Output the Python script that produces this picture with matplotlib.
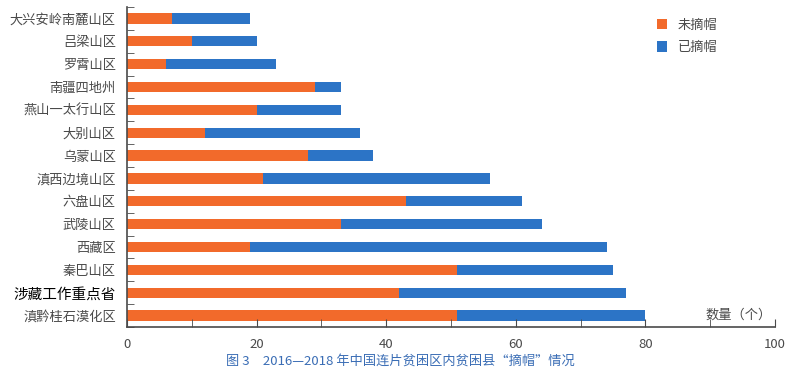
import matplotlib.pyplot as plt
import numpy as np
from matplotlib.ticker import MultipleLocator, FixedLocator

plt.rcParams['font.family'] = ['Noto Sans CJK SC', 'DejaVu Sans']

regions = ["大兴安岭南麓山区", "吕梁山区", "罗霄山区", "南疆四地州", "燕山一太行山区",
           "大别山区", "乌蒙山区", "滇西边境山区", "六盘山区", "武陵山区",
           "西藏区", "秦巴山区", "涉藏工作重点省", "滇黔桂石漠化区"]
not_removed = [7, 10, 6, 29, 20, 12, 28, 21, 43, 33, 19, 51, 42, 51]
total = [19, 20, 23, 33, 33, 36, 38, 56, 61, 64, 74, 75, 77, 80]
removed = [t - n for t, n in zip(total, not_removed)]

orange = "#F26A2B"
blue = "#2C74C6"
grey = "#4a4a4a"

fig = plt.figure(figsize=(8.01, 3.78), dpi=100)
ax = fig.add_axes([127 / 801, 1 - 327 / 378, 648 / 801, 320 / 378])

y = np.arange(len(regions))[::-1]
ax.barh(y, not_removed, height=0.45, color=orange, label="未摘帽")
ax.barh(y, removed, left=not_removed, height=0.45, color=blue, label="已摘帽")

ax.set_xlim(0, 100)
ax.set_ylim(-0.5, len(regions) - 0.5)
ax.set_yticks(y)
ax.set_yticklabels(regions)
for lbl in ax.get_yticklabels():
    if lbl.get_text() == "涉藏工作重点省":
        lbl.set_color("black")
        lbl.set_fontsize(10.5)
    else:
        lbl.set_color(grey)
        lbl.set_fontsize(9.5)
ax.yaxis.set_minor_locator(FixedLocator(np.arange(-0.5, len(regions), 1)))
ax.tick_params(axis="y", which="major", length=0, pad=8)
ax.tick_params(axis="y", which="minor", direction="in", length=5, color=grey)

ax.xaxis.set_major_locator(MultipleLocator(20))
ax.xaxis.set_minor_locator(MultipleLocator(10))
ax.tick_params(axis="x", which="both", direction="in", length=6, color=grey,
               labelcolor=grey, labelsize=9.5, pad=8)

for s in ["top", "right"]:
    ax.spines[s].set_visible(False)
for s in ["left", "bottom"]:
    ax.spines[s].set_color(grey)
    ax.spines[s].set_linewidth(1.2)

ax.text(99.5, 0.018, "数量（个）", ha="right", va="bottom", fontsize=9.5, color=grey,
        transform=ax.get_xaxis_transform())

ax.legend(loc="upper right", bbox_to_anchor=(0.93, 1.0), frameon=False, fontsize=9.5,
          handlelength=0.8, handleheight=0.8, labelcolor=grey, labelspacing=0.7)

fig.text(0.5, 1 - 361 / 378, "图 3　2016—2018 年中国连片贫困区内贫困县“摘帽”情况",
         ha="center", va="center", fontsize=9.5, color="#3A6DB5")

fig.savefig("out.png", dpi=100)
